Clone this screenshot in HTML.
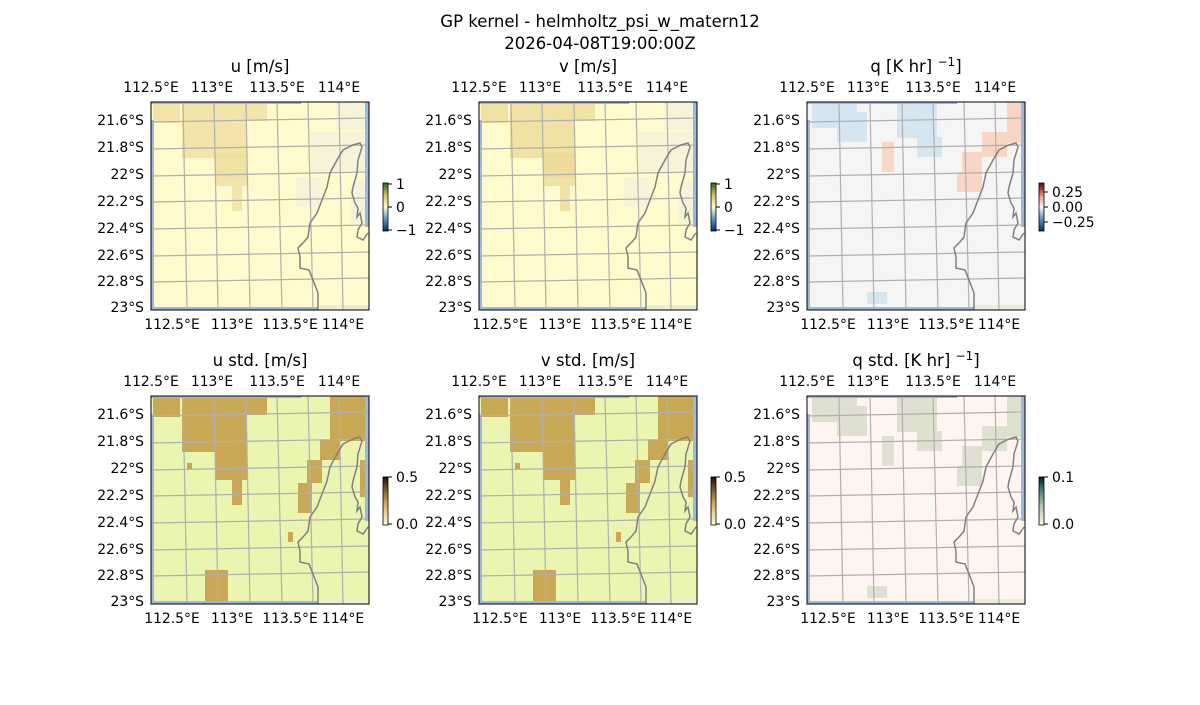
<!DOCTYPE html>
<html><head><meta charset="utf-8"><style>
html,body{margin:0;padding:0;background:#fff;}
svg text{font-family:"DejaVu Sans","Liberation Sans",sans-serif;fill:#000;}
</style></head><body>
<svg id="s" width="1200" height="700" xmlns="http://www.w3.org/2000/svg">
<defs>
<linearGradient id="gu" x1="0" y1="1" x2="0" y2="0"><stop offset="0" stop-color="#08306b"/><stop offset="0.3" stop-color="#6baed6"/><stop offset="0.5" stop-color="#fffbcc"/><stop offset="0.75" stop-color="#d9c060"/><stop offset="1" stop-color="#1a6b1a"/></linearGradient>
<linearGradient id="gq" x1="0" y1="1" x2="0" y2="0"><stop offset="0" stop-color="#053061"/><stop offset="0.3" stop-color="#6aa8d0"/><stop offset="0.5" stop-color="#f7f7f7"/><stop offset="0.7" stop-color="#f4a582"/><stop offset="1" stop-color="#67001f"/></linearGradient>
<linearGradient id="gs" x1="0" y1="1" x2="0" y2="0"><stop offset="0" stop-color="#ffffe0"/><stop offset="0.4" stop-color="#d9b860"/><stop offset="0.8" stop-color="#6b4a20"/><stop offset="1" stop-color="#111"/></linearGradient>
<linearGradient id="gt" x1="0" y1="1" x2="0" y2="0"><stop offset="0" stop-color="#fff5f0"/><stop offset="0.4" stop-color="#b0c8a0"/><stop offset="0.8" stop-color="#2a7070"/><stop offset="1" stop-color="#111"/></linearGradient>
</defs>
<text x="600" y="27" font-size="16.5" text-anchor="middle">GP kernel - helmholtz_psi_w_matern12</text>
<text x="600" y="49" font-size="16.5" text-anchor="middle">2026-04-08T19:00:00Z</text>
<g id="root"></g>
</svg>
<script>
var root=document.getElementById('root');var h='';
var coast=[[318,310],[318,293],[313,280],[309,270],[300,268],[300,257],[298,248],[303,243],[308,237],[310,223],[317,213],[322,200],[327,187],[330,173],[337,160],[343,150],[353,145],[360,143],[362,147],[358,160],[357,173],[353,187],[352,193],[355,203],[358,208],[357,217],[360,213],[362,223],[358,230],[357,237],[363,240],[368,233]];
var bl=[[2,-4,27,25],[31,-4,65,60],[96,-4,20,23],[64,51,32,33],[81,84,10,25],[179,-5,37,50],[169,44,20,20],[156,64,15,23],[147,87,14,30],[209,64,7,37],[137,136,5,10],[54,174,23,32],[36,67,5,6]];
var qblue=[[5,-4,45,30],[90,-4,40,40],[110,35,25,20],[30,10,30,30],[60,190,20,12]];
var qred=[[200,-4,15,45],[175,30,25,25],[155,50,20,40],[75,40,12,30],[150,70,10,20]];
var pale=[[160,30,58,40],[145,75,25,30],[185,-2,30,30],[200,80,15,40]];
var panels=[
 {x:151,y:102,t:'u [m/s]',bg:'#fffbcc',blob:'#f0e0a0',pale:1,bl:bl.slice(0,5).concat([[64,51,32,25]]),lo:0.8,cb:['url(#gu)',['1','0','\u22121'],[184,207,230],383,183]},
 {x:479,y:102,t:'v [m/s]',bg:'#fffbcc',blob:'#eedb99',pale:1,bl:bl.slice(0,5).concat([[64,51,32,25]]),lo:0.8,cb:['url(#gu)',['1','0','\u22121'],[184,207,230],711,183]},
 {x:807,y:102,t:'q [K hr $]',bg:'#f5f5f5',blob:'#d6e6f0',bl:qblue,red:qred,lo:1,cb:['url(#gq)',['0.25','0.00','\u22120.25'],[192,207,222],1039,183]},
 {x:151,y:396,t:'u std. [m/s]',bg:'#eaf5b0',blob:'#c9a855',bl:bl,lo:1,cb:['url(#gs)',['0.5','0.0'],[477,524],383,477]},
 {x:479,y:396,t:'v std. [m/s]',bg:'#eaf5b0',blob:'#c9a855',bl:bl,lo:1,cb:['url(#gs)',['0.5','0.0'],[477,524],711,477]},
 {x:807,y:396,t:'q std. [K hr $]',bg:'#fff5f0',blob:'#dfe0d0',bl:qblue.concat(qred),lo:1,cb:['url(#gt)',['0.1','0.0'],[477,524],1039,477]}
];
function rect(X,Y,b,fill,op){var y0=Math.max(0,b[1]);return '<rect x="'+(X+b[0])+'" y="'+(Y+y0)+'" width="'+b[2]+'" height="'+(b[3]-(y0-b[1]))+'" fill="'+fill+'" opacity="'+op+'"/>';}
panels.forEach(function(p){
 var X=p.x,Y=p.y,W=218,H=208;
 h+='<rect x="'+X+'" y="'+Y+'" width="'+W+'" height="'+H+'" fill="'+p.bg+'"/>';
 if(p.pale)pale.forEach(function(b){h+=rect(X,Y,b,'#f4f1dc',0.8);});
 p.bl.forEach(function(b){h+=rect(X,Y,b,p.blob,p.lo);});
 if(p.red)p.red.forEach(function(b){h+=rect(X,Y,b,'#f8d6c6',1);});
 h+='<rect x="'+X+'" y="'+(Y+18)+'" width="3" height="'+(H-18)+'" fill="#9ab8e0"/>';
 h+='<rect x="'+X+'" y="'+Y+'" width="150" height="2" fill="#9ab8e0"/>';
 h+='<rect x="'+(X+W-4)+'" y="'+Y+'" width="4" height="125" fill="#9ab8e0"/>';
 h+='<rect x="'+X+'" y="'+(Y+H-3)+'" width="167" height="3" fill="#9ab8e0"/>';
 h+='<rect x="'+(X+167)+'" y="'+(Y+H-5)+'" width="51" height="5" fill="#eeecd8"/>';
 var tx=[32,63,95,126,157,188],bx=[36,67,99,131,162,192];
 for(var i=0;i<6;i++)h+='<line x1="'+(X+tx[i])+'" y1="'+Y+'" x2="'+(X+bx[i])+'" y2="'+(Y+H)+'" stroke="#b0b0b0" stroke-width="1.2"/>';
 var ly=[20,47,74,100,127,154,180];
 for(i=0;i<7;i++)h+='<line x1="'+X+'" y1="'+(Y+ly[i])+'" x2="'+(X+W)+'" y2="'+(Y+ly[i]-4)+'" stroke="#b0b0b0" stroke-width="1.2"/>';
 var d='M';coast.forEach(function(c,k){d+=(k?' L':'')+(c[0]-151+X)+' '+(c[1]-102+Y);});
 h+='<path d="'+d+'" fill="none" stroke="#808080" stroke-width="1.5"/>';
 h+='<rect x="'+X+'" y="'+Y+'" width="'+W+'" height="'+H+'" fill="none" stroke="#000" stroke-width="1"/>';
 var t=p.t.replace(' $','');
 if(p.t.indexOf('$')>=0) h+='<text x="'+(X+109)+'" y="'+(Y-30)+'" font-size="16.5" text-anchor="middle">'+t+' <tspan dy="-6" font-size="12">\u22121</tspan><tspan dy="6">]</tspan></text>';
 else h+='<text x="'+(X+109)+'" y="'+(Y-30)+'" font-size="16.5" text-anchor="middle">'+t+'</text>';
 var labs=['112.5°E','113°E','113.5°E','114°E'],tl=[0,61,126,188],bxl=[21,81,139,192];
 for(i=0;i<4;i++){h+='<text x="'+(X+tl[i])+'" y="'+(Y-10)+'" font-size="13.9" text-anchor="middle">'+labs[i]+'</text>';
  h+='<text x="'+(X+bxl[i])+'" y="'+(Y+H+19)+'" font-size="13.9" text-anchor="middle">'+labs[i]+'</text>';}
 var lat=['21.6°S','21.8°S','22°S','22.2°S','22.4°S','22.6°S','22.8°S','23°S'],lyy=[18,45,72,99,126,153,179,205];
 for(i=0;i<8;i++)h+='<text x="'+(X-7)+'" y="'+(Y+lyy[i]+5)+'" font-size="13.9" text-anchor="end">'+lat[i]+'</text>';
 var cb=p.cb,cx=cb[3],cy=cb[4];
 h+='<rect x="'+cx+'" y="'+cy+'" width="5" height="48" fill="'+cb[0]+'" stroke="#000" stroke-width="0.8"/>';
 for(i=0;i<cb[1].length;i++){h+='<line x1="'+(cx+5)+'" y1="'+cb[2][i]+'" x2="'+(cx+9)+'" y2="'+cb[2][i]+'" stroke="#000"/>';
  h+='<text x="'+(cx+13)+'" y="'+(cb[2][i]+5)+'" font-size="13.9">'+cb[1][i]+'</text>';}
});
root.innerHTML=h;
</script>
</body></html>
